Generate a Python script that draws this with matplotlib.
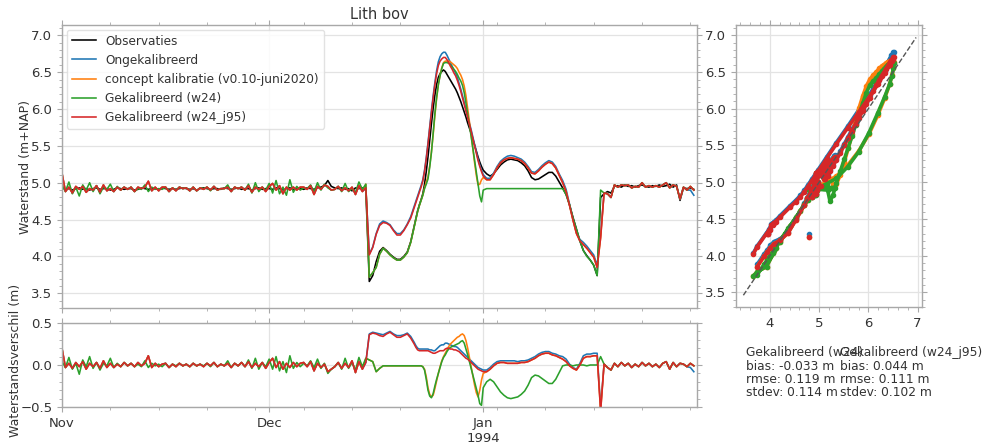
import numpy as np
import pandas as pd
import matplotlib
matplotlib.use("Agg")
import matplotlib.pyplot as plt
import matplotlib.dates as mdates
from matplotlib.ticker import MultipleLocator, FuncFormatter

# ---------------------------------------------------------------------------
# Water level at Lith (bovenstrooms), 1 Nov 1993 - 31 Jan 1994.
# 12-hourly values, 6-hourly around the flood peak (22 Dec - 1 Jan).
# ---------------------------------------------------------------------------
tijd = (pd.date_range("1993-11-01 00:00", "1993-12-21 12:00", freq="12h")
        .append(pd.date_range("1993-12-22 00:00", "1994-01-01 00:00", freq="6h"))
        .append(pd.date_range("1994-01-01 12:00", "1994-01-31 12:00", freq="12h")))

# observed water level (m+NAP)
obs_kalm_begin = [
    4.93, 4.91, 4.92, 4.90, 4.92, 4.93, 4.91, 4.92, 4.90, 4.92,
    4.93, 4.91, 4.92, 4.92, 4.90, 4.91, 4.93, 4.92, 4.91, 4.92,
    4.92, 4.90, 4.91, 4.93, 4.92, 4.91, 4.92, 4.92, 4.91, 4.93,
    4.92, 4.91, 4.92, 4.91, 4.92, 4.93, 4.92, 4.91, 4.92, 4.90,
    4.92, 4.93, 4.92, 4.91, 4.92, 4.92, 4.91, 4.93, 4.92, 4.91,
    4.92, 4.93, 4.91, 4.92, 4.92, 4.90, 4.92, 4.93, 4.91, 4.92,
    4.92, 4.91, 4.93, 4.92, 4.90, 4.92, 4.93, 4.91, 4.92, 4.92,
    4.91, 4.93, 4.92, 4.91, 4.93, 4.94, 4.96, 5.03, 4.95, 4.93,
    4.92, 4.93, 4.91, 4.92, 4.89, 4.93, 4.92, 4.93,
]
obs_hoogwater = [
    # 15 Dec - 21 Dec (12h)
    4.90, 3.66, 3.74, 3.93, 4.07, 4.12, 4.08, 4.03, 3.99, 3.96,
    3.96, 4.00, 4.06, 4.20,
    # 22 Dec - 1 Jan (6h)
    4.41, 4.52, 4.62, 4.70, 4.77, 4.85, 4.98, 5.15, 5.35, 5.58,
    5.80, 6.01, 6.19, 6.33, 6.43, 6.48, 6.51, 6.53, 6.51, 6.47,
    6.43, 6.39, 6.35, 6.31, 6.27, 6.22, 6.16, 6.10, 6.03, 5.96,
    5.89, 5.81, 5.74, 5.67, 5.59, 5.51, 5.43, 5.35, 5.28, 5.22,
    5.17,
    # 1 Jan 12h - 18 Jan (12h)
    5.12, 5.09, 5.12, 5.18, 5.24, 5.28, 5.31, 5.32, 5.31, 5.30,
    5.27, 5.23, 5.16, 5.07, 5.04, 5.05, 5.08, 5.11, 5.14, 5.14,
    5.09, 5.01, 4.93, 4.84, 4.70, 4.53, 4.37, 4.21, 4.08, 4.01,
    3.95, 3.88, 3.74, 4.80,
]
obs_kalm_eind = [
    4.85, 4.88, 4.86, 4.95, 4.96, 4.94, 4.97, 4.95, 4.96, 4.94,
    4.96, 4.97, 4.95, 4.94, 4.96, 4.95, 4.97, 4.95, 4.96, 4.98,
    4.94, 4.97, 4.76, 4.93, 4.92, 4.93, 4.91,
]

# model minus observation (m), calm periods
verschil_kalm_begin = [
    0.20, -0.03, 0.02, -0.04, 0.03, -0.02, 0.04, -0.05, 0.02, -0.02,
    0.03, -0.04, 0.05, -0.03, 0.02, -0.03, 0.01, -0.02, 0.03, -0.01,
    0.02, -0.02, 0.03, -0.01, 0.02, 0.11, -0.03, 0.02, -0.02, 0.01,
    0.02, -0.03, 0.01, -0.02, 0.02, -0.01, 0.01, -0.02, 0.02, -0.01,
    0.01, -0.02, 0.02, -0.01, 0.03, -0.02, 0.01, -0.01, 0.02, -0.03,
    0.02, -0.01, 0.03, -0.02, 0.04, -0.03, 0.02, -0.02, 0.03, -0.04,
    0.03, 0.08, -0.03, 0.04, -0.05, 0.02, -0.03, 0.03, -0.02, 0.02,
    0.03, -0.02, 0.04, -0.07, 0.02, -0.03, 0.01, -0.08, -0.05, -0.02,
    0.03, -0.04, 0.02, -0.03, 0.05, -0.09, 0.04, -0.05,
]
verschil_w24_kalm_begin = [
    0.04, -0.03, 0.09, -0.05, 0.02, -0.11, 0.06, -0.02, 0.10, -0.04,
    0.03, -0.06, 0.02, -0.01, 0.08, -0.03, 0.02, -0.02, 0.03, -0.01,
    0.02, -0.02, 0.01, -0.02, 0.05, -0.03, 0.02, -0.01, 0.01, -0.02,
    0.02, -0.03, 0.01, -0.01, 0.02, -0.01, 0.01, -0.02, 0.02, -0.01,
    0.01, -0.01, 0.02, -0.02, 0.03, -0.02, 0.01, -0.01, 0.05, -0.03,
    0.02, -0.01, 0.03, -0.02, 0.06, -0.04, 0.08, -0.05, 0.03, -0.02,
    0.07, -0.05, 0.10, -0.07, 0.04, -0.09, 0.11, -0.04, 0.03, -0.02,
    0.02, -0.01, 0.05, -0.03, 0.07, -0.04, 0.02, -0.10, -0.05, -0.02,
    0.03, -0.05, 0.08, -0.04, 0.03, -0.06, 0.09, -0.02,
]
verschil_kalm_eind = [
    0.01, -0.03, -0.06, 0.02, -0.02, 0.03, -0.01, 0.02, -0.03, 0.01,
    -0.02, 0.03, -0.01, 0.02, -0.02, 0.01, -0.03, 0.02, 0.04, -0.05,
    0.03, -0.02, 0.02, 0.01, -0.02, 0.02, -0.01,
]
verschil_ongekalibreerd_kalm_eind = [
    0.01, -0.03, -0.06, 0.02, -0.02, 0.03, -0.01, 0.02, -0.03, 0.01,
    -0.02, 0.03, -0.01, 0.02, -0.02, 0.01, -0.03, 0.02, 0.04, -0.05,
    0.03, -0.02, 0.02, 0.01, -0.02, -0.03, -0.08,
]

# model minus observation (m), flood period (same time steps as obs_hoogwater)
verschil_ongekalibreerd_hw = [
    0.03, 0.37, 0.39, 0.38, 0.37, 0.36, 0.38, 0.40, 0.37, 0.35,
    0.35, 0.36, 0.38, 0.34,
    0.27, 0.23, 0.20, 0.19, 0.19, 0.19, 0.19, 0.19, 0.19, 0.18,
    0.18, 0.17, 0.17, 0.19, 0.21, 0.23, 0.24, 0.24, 0.26, 0.26,
    0.25, 0.24, 0.23, 0.22, 0.22, 0.21, 0.19, 0.17, 0.15, 0.13,
    0.11, 0.09, 0.07, 0.05, 0.03, 0.01, -0.01, -0.03, -0.04, -0.05,
    -0.06,
    -0.06, -0.03, 0.01, 0.04, 0.05, 0.05, 0.05, 0.05, 0.05, 0.04,
    0.05, 0.05, 0.06, 0.08, 0.10, 0.13, 0.15, 0.16, 0.16, 0.14,
    0.13, 0.11, 0.10, 0.07, 0.01, -0.03, -0.05, 0.02, 0.11, 0.13,
    0.13, 0.14, 0.14, -0.50,
]
verschil_concept_hw = [
    0.08, 0.06, 0.04, -0.08, -0.04, -0.01, -0.01, -0.01, -0.01, -0.01,
    -0.01, -0.01, -0.01, -0.01,
    -0.01, -0.01, -0.01, -0.01, -0.01, -0.02, -0.05, -0.14, -0.27, -0.35,
    -0.38, -0.36, -0.28, -0.19, -0.10, -0.02, 0.05, 0.10, 0.14, 0.18,
    0.22, 0.25, 0.27, 0.29, 0.31, 0.33, 0.34, 0.36, 0.37, 0.35,
    0.29, 0.20, 0.09, -0.02, -0.13, -0.24, -0.33, -0.38, -0.30, -0.18,
    -0.10,
    -0.08, -0.05, -0.01, 0.02, 0.03, 0.03, 0.02, 0.02, 0.02, 0.02,
    0.03, 0.03, 0.04, 0.06, 0.08, 0.11, 0.13, 0.14, 0.14, 0.12,
    0.11, 0.09, 0.07, 0.04, -0.01, -0.04, -0.06, 0.00, 0.08, 0.10,
    0.10, 0.11, 0.11, -0.55,
]
verschil_w24_hw = [
    0.08, 0.06, 0.04, -0.08, -0.04, -0.01, -0.01, -0.01, -0.01, -0.01,
    -0.01, -0.01, -0.01, -0.01,
    -0.01, -0.01, -0.01, -0.01, -0.01, -0.02, -0.06, -0.17, -0.30, -0.37,
    -0.39, -0.34, -0.25, -0.17, -0.10, -0.03, 0.04, 0.09, 0.12, 0.16,
    0.19, 0.21, 0.22, 0.23, 0.24, 0.25, 0.26, 0.28, 0.29, 0.26,
    0.19, 0.12, 0.04, -0.04, -0.12, -0.20, -0.28, -0.36, -0.46, -0.48,
    -0.27,
    -0.20, -0.17, -0.20, -0.26, -0.32, -0.36, -0.39, -0.40, -0.39, -0.38,
    -0.35, -0.31, -0.24, -0.15, -0.12, -0.13, -0.16, -0.19, -0.22, -0.22,
    -0.17, -0.09, -0.01, 0.00, 0.00, -0.01, 0.00, 0.00, 0.00, -0.01,
    0.00, 0.00, 0.00, 0.10,
]
verschil_w24_j95_hw = [
    0.03, 0.36, 0.38, 0.37, 0.35, 0.34, 0.37, 0.39, 0.36, 0.33,
    0.33, 0.35, 0.37, 0.32,
    0.25, 0.21, 0.18, 0.17, 0.17, 0.17, 0.17, 0.17, 0.17, 0.16,
    0.15, 0.14, 0.14, 0.15, 0.16, 0.17, 0.17, 0.17, 0.19, 0.20,
    0.20, 0.19, 0.19, 0.18, 0.18, 0.17, 0.16, 0.14, 0.12, 0.10,
    0.08, 0.07, 0.05, 0.03, 0.01, -0.01, -0.03, -0.05, -0.06, -0.07,
    -0.08,
    -0.08, -0.05, -0.01, 0.02, 0.03, 0.03, 0.02, 0.02, 0.02, 0.02,
    0.03, 0.03, 0.04, 0.06, 0.08, 0.11, 0.13, 0.14, 0.14, 0.12,
    0.11, 0.09, 0.07, 0.04, -0.01, -0.04, -0.06, 0.00, 0.08, 0.10,
    0.10, 0.11, 0.11, -0.55,
]

# statistics printed below the scatter plot
stat_namen = ["Gekalibreerd (w24)", "Gekalibreerd (w24_j95)"]
stat_bias = [-0.033, 0.044]
stat_rmse = [0.119, 0.111]
stat_stdev = [0.114, 0.102]

# ---------------------------------------------------------------------------
observaties = np.array(obs_kalm_begin + obs_hoogwater + obs_kalm_eind)

series = [
    ("Ongekalibreerd", "#1f77b4",
     verschil_kalm_begin + verschil_ongekalibreerd_hw + verschil_ongekalibreerd_kalm_eind),
    ("concept kalibratie (v0.10-juni2020)", "#ff7f0e",
     verschil_kalm_begin + verschil_concept_hw + verschil_kalm_eind),
    ("Gekalibreerd (w24)", "#2ca02c",
     verschil_w24_kalm_begin + verschil_w24_hw + verschil_kalm_eind),
    ("Gekalibreerd (w24_j95)", "#d62728",
     verschil_kalm_begin + verschil_w24_j95_hw + verschil_kalm_eind),
]

# ---------------------------------------------------------------------------
plt.rcParams["font.family"] = ["DejaVu Sans"]
plt.rcParams["font.size"] = 9

SPINE = "#a8a8a8"
GRID = "#e3e3e3"
TXT = "#333333"
LW = 1.15

W, H = 982, 443
fig = plt.figure(figsize=(W / 100, H / 100), dpi=100)


def box(l, t, r, b):
    return [l / W, 1 - b / H, (r - l) / W, (b - t) / H]


ax = fig.add_axes(box(62, 25, 697, 308))
axd = fig.add_axes(box(62, 323, 697, 407), sharex=ax)
axs = fig.add_axes(box(736, 25, 922, 307))


def style(a):
    for s in a.spines.values():
        s.set_color(SPINE)
        s.set_linewidth(1.0)
    a.tick_params(which="both", direction="out", colors=SPINE,
                  labelcolor=TXT, top=True, right=True, labelsize=9.5)
    a.tick_params(which="major", length=3.5, width=0.8)
    a.tick_params(which="minor", length=2.0, width=0.6)
    a.grid(True, which="major", color=GRID, linewidth=0.9)
    a.set_axisbelow(True)


for a in (ax, axd, axs):
    style(a)

# time series and differences
ax.plot(tijd, observaties, color="black", lw=LW, label="Observaties")
for naam, kleur, verschil in series:
    model = observaties + np.array(verschil)
    ax.plot(tijd, model, color=kleur, lw=LW, label=naam)
    axd.plot(tijd, np.array(verschil), color=kleur, lw=LW)

ax.set_ylim(3.30, 7.14)
ax.yaxis.set_major_locator(MultipleLocator(0.5))
ax.yaxis.set_minor_locator(MultipleLocator(0.1))
ax.set_ylabel("Waterstand (m+NAP)", color=TXT, fontsize=9)
ax.yaxis.set_label_coords(-0.047, 0.5)
ax.set_title("Lith bov", color=TXT, fontsize=10.5, pad=4)
plt.setp(ax.get_xticklabels(), visible=False)

leg = ax.legend(loc="upper left", fontsize=8.7, frameon=True, fancybox=True,
                framealpha=0.85, edgecolor="#dddddd", handlelength=2.0,
                borderaxespad=0.4)
for t in leg.get_texts():
    t.set_color(TXT)

axd.set_ylim(-0.5, 0.5)
axd.yaxis.set_major_locator(MultipleLocator(0.5))
axd.yaxis.set_minor_locator(MultipleLocator(0.1))
axd.set_ylabel("Waterstandsverschil (m)", color=TXT, fontsize=9)
axd.yaxis.set_label_coords(-0.063, 0.56)
axd.set_xlim(pd.Timestamp("1993-11-01"), pd.Timestamp("1994-01-31 23:00"))
axd.xaxis.set_major_locator(mdates.MonthLocator())
axd.xaxis.set_minor_locator(mdates.WeekdayLocator(byweekday=mdates.MO))


def maand(x, pos):
    d = mdates.num2date(x)
    s = d.strftime("%b")
    return s + "\n" + d.strftime("%Y") if d.month == 1 else s


axd.xaxis.set_major_formatter(FuncFormatter(maand))

# scatter: observed vs modelled (line broken at sudden jumps)
for naam, kleur, verschil in series:
    model = observaties + np.array(verschil)
    sprong = (np.abs(np.diff(observaties)) > 0.35) | (np.abs(np.diff(model)) > 0.35)
    xs, ys = [], []
    for i in range(len(model)):
        xs.append(observaties[i])
        ys.append(model[i])
        if i < len(sprong) and sprong[i]:
            xs.append(np.nan)
            ys.append(np.nan)
    axs.plot(xs, ys, color=kleur, lw=2.6, marker="o", ms=3.0,
             solid_capstyle="round")

alle = np.concatenate([observaties] + [observaties + np.array(v) for _, _, v in series])
lo, hi = alle.min() - 0.2, alle.max() + 0.2
axs.plot([lo, hi], [lo, hi], ls="--", color="#555555", lw=1.0)
axs.set_xlim(3.31, 7.09)
axs.set_ylim(3.30, 7.14)
axs.xaxis.set_major_locator(MultipleLocator(1))
axs.xaxis.set_minor_locator(MultipleLocator(0.2))
axs.yaxis.set_major_locator(MultipleLocator(0.5))
axs.yaxis.set_minor_locator(MultipleLocator(0.1))

# statistics
for i, x0 in enumerate((746, 840)):
    tekst = (f"{stat_namen[i]}\nbias: {stat_bias[i]:.3f} m\n"
             f"rmse: {stat_rmse[i]:.3f} m\nstdev: {stat_stdev[i]:.3f} m")
    fig.text(x0 / W, 1 - 346 / H, tekst, ha="left", va="top",
             fontsize=8.8, color=TXT, linespacing=1.05)

fig.savefig("out.png", dpi=100)
